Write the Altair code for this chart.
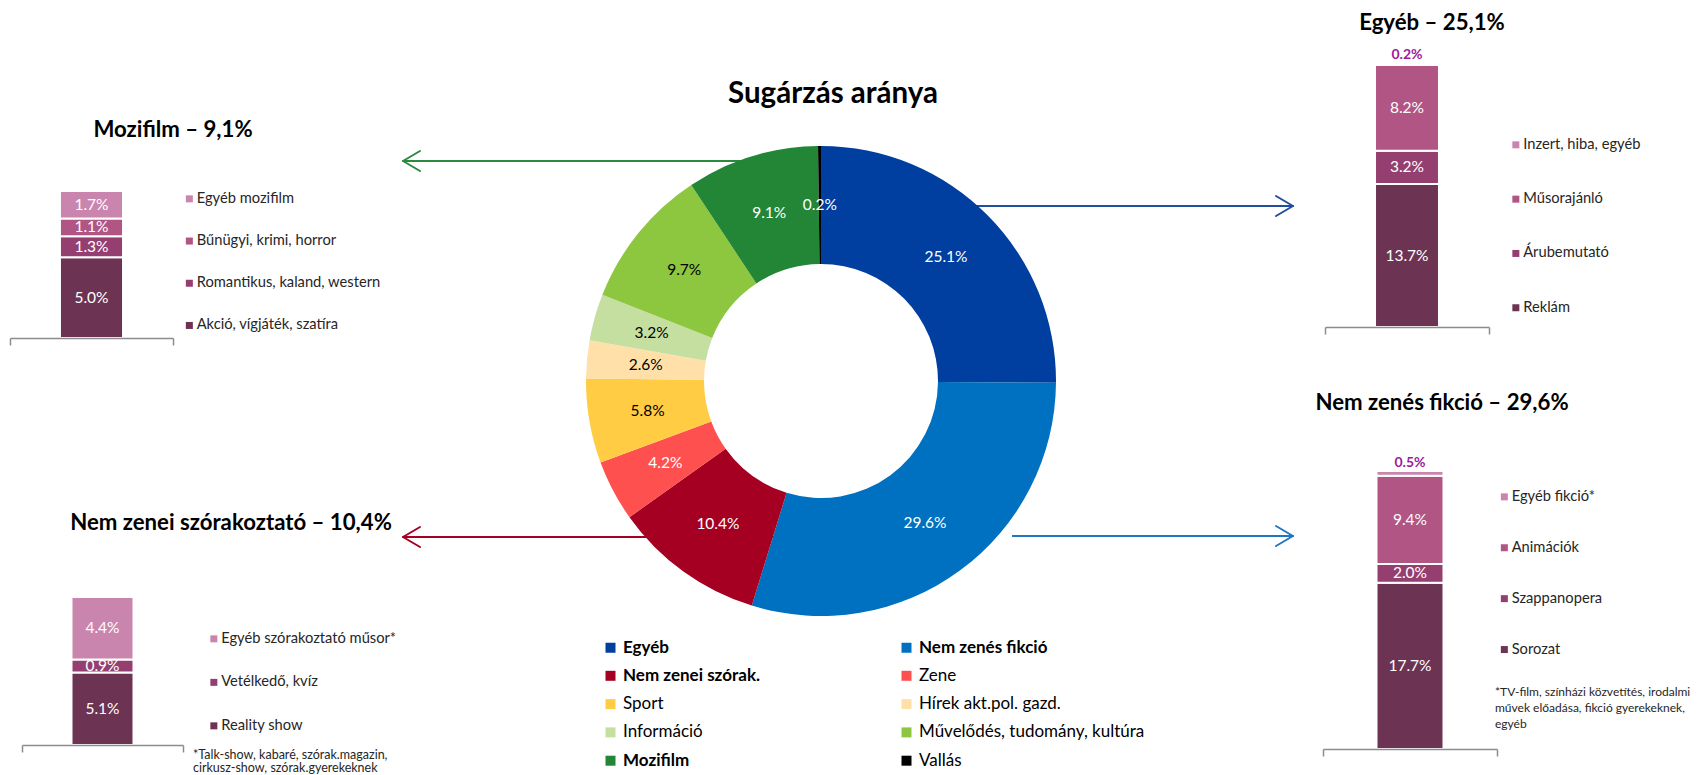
import json
import altair as alt
import pandas as pd

FONT = "Lato"
W, H = 1684, 767

# ---------------- data ----------------
main_title = "Sugárzás aránya"

donut_cats = ["Egyéb", "Nem zenés fikció", "Nem zenei szórak.", "Zene", "Sport",
              "Hírek akt.pol. gazd.", "Információ", "Művelődés, tudomány, kultúra",
              "Mozifilm", "Vallás"]
donut_vals = [25.1, 29.6, 10.4, 4.2, 5.8, 2.6, 3.2, 9.7, 9.1, 0.2]

mozi_title = "Mozifilm – 9,1%"
mozi_cats = ["Akció, vígjáték, szatíra", "Romantikus, kaland, western",
             "Bűnügyi, krimi, horror", "Egyéb mozifilm"]
mozi_vals = [5.0, 1.3, 1.1, 1.7]

egyeb_title = "Egyéb – 25,1%"
egyeb_cats = ["Reklám", "Árubemutató", "Műsorajánló", "Inzert, hiba, egyéb"]
egyeb_vals = [13.7, 3.2, 8.2, 0.2]

szor_title = "Nem zenei szórakoztató – 10,4%"
szor_cats = ["Reality show", "Vetélkedő, kvíz", "Egyéb szórakoztató műsor*"]
szor_vals = [5.1, 0.9, 4.4]
szor_note = "*Talk-show, kabaré, szórak.magazin,\ncirkusz-show, szórak.gyerekeknek"

fikc_title = "Nem zenés fikció – 29,6%"
fikc_cats = ["Sorozat", "Szappanopera", "Animációk", "Egyéb fikció*"]
fikc_vals = [17.7, 2.0, 9.4, 0.5]
fikc_note = "*TV-film, színházi közvetítés, irodalmi\nművek előadása, fikció gyerekeknek,\negyéb"

# ---------------- styles ----------------
donut_colors = ["#003F9F", "#0070C0", "#A50021", "#FF5050", "#FFCC44",
                "#FFE0A8", "#C4DFA0", "#8DC63F", "#238636", "#000000"]
donut_dark_text = ["Sport", "Hírek akt.pol. gazd.", "Információ", "Művelődés, tudomány, kultúra"]
donut_bold = ["Egyéb", "Nem zenés fikció", "Nem zenei szórak.", "Mozifilm"]
four_cols = ["#6C3353", "#943F6F", "#B05584", "#C985AD"]
three_cols = ["#6C3353", "#943F6F", "#C985AD"]
AXIS_GRAY = "#8C8C8C"
PURPLE = "#9B1B9B"

one = pd.DataFrame({"a": [0]})


def arrow(y, x_from, x_tip, color):
    d = 1 if x_tip > x_from else -1
    parts = [
        alt.Chart(one).mark_rule(color=color, strokeWidth=2).encode(
            x=alt.value(x_from), x2=alt.value(x_tip), y=alt.value(y), y2=alt.value(y)),
        alt.Chart(one).mark_rule(color=color, strokeWidth=2, strokeCap="round").encode(
            x=alt.value(x_tip), x2=alt.value(x_tip - d * 17), y=alt.value(y), y2=alt.value(y - 10)),
        alt.Chart(one).mark_rule(color=color, strokeWidth=2, strokeCap="round").encode(
            x=alt.value(x_tip), x2=alt.value(x_tip - d * 17), y=alt.value(y), y2=alt.value(y + 10)),
    ]
    return parts


def label(text, x, y, size, weight="bold", align="center", baseline="middle", color="black", lh=None):
    kw = dict(font=FONT, fontSize=size, fontWeight=weight, align=align, baseline=baseline, color=color)
    if lh is not None:
        kw.update(lineBreak="\n", lineHeight=lh)
    return alt.Chart(one).mark_text(**kw).encode(
        x=alt.value(x), y=alt.value(y), text=alt.value(text))


def panel(cats, vals, colors, total, x_range, axis_y, y_top, band, lx, ly, rowpad):
    df = pd.DataFrame({"panel": "a", "cat": cats, "v": vals, "ord": list(range(len(cats)))})
    base = alt.Chart(df).transform_window(
        cum="sum(v)", sort=[alt.SortField("ord")], frame=[None, 0]
    ).transform_calculate(
        mid="datum.cum - datum.v / 2", lbl="format(datum.v, '.1f') + '%'"
    )
    xs = alt.Scale(domain=["a"], range=x_range, paddingInner=0, paddingOuter=0)
    ys = alt.Scale(domain=[0, total], range=[axis_y, y_top], nice=False, zero=True)
    ax = alt.Axis(orient="bottom", offset=axis_y - H, labels=False, title=None, grid=False,
                  tickBand="extent", tickSize=7, tickColor=AXIS_GRAY, tickWidth=1.5,
                  domainColor=AXIS_GRAY, domainWidth=1.5, zindex=1)
    bar = base.mark_bar(width=alt.RelativeBandSize(band), stroke="white", strokeWidth=2).encode(
        x=alt.X("panel:N", scale=xs, axis=ax),
        y=alt.Y("v:Q", stack="zero", scale=ys, axis=None),
        color=alt.Color("cat:N", scale=alt.Scale(domain=cats[::-1], range=colors[::-1]),
                        legend=alt.Legend(orient="none", legendX=lx, legendY=ly, title=None,
                                          symbolType="square", symbolSize=49, symbolStrokeWidth=0,
                                          labelFont=FONT, labelFontSize=14.7, labelColor="#262626",
                                          rowPadding=rowpad, padding=0, labelOffset=0, labelLimit=0)),
        order=alt.Order("ord:Q"),
    )
    inside = base.transform_filter("datum.v >= 0.6").mark_text(
        color="white", font=FONT, fontSize=15.5, baseline="middle").encode(
        x=alt.X("panel:N", scale=xs, axis=ax),
        y=alt.Y("mid:Q", scale=ys, axis=None),
        text="lbl:N")
    outside = base.transform_filter("datum.v < 0.6").mark_text(
        color=PURPLE, font=FONT, fontSize=14, fontWeight="bold", baseline="bottom", dy=-1).encode(
        x=alt.X("panel:N", scale=xs, axis=ax),
        y=alt.Y("cum:Q", scale=ys, axis=None),
        text="lbl:N")
    return alt.layer(bar, inside, outside)


# ---------------- donut ----------------
CX, CY = 813, 373
ddf = pd.DataFrame({"cat": donut_cats, "v": donut_vals, "ord": list(range(len(donut_cats)))})
dbase = alt.Chart(ddf).transform_calculate(lbl="format(datum.v, '.1f') + '%'")
bold_expr = "indexof(" + json.dumps(donut_bold, ensure_ascii=False) + ", datum.label) >= 0 ? 'bold' : 'normal'"
# legend is filled column by column: list the entries so that they read row by row
legend_order = donut_cats[0::2] + donut_cats[1::2]
legend_colors = donut_colors[0::2] + donut_colors[1::2]
arc = dbase.mark_arc(innerRadius=117, outerRadius=235).encode(
    x=alt.value(CX), y=alt.value(CY),
    theta=alt.Theta("v:Q", stack=True),
    order=alt.Order("ord:Q"),
    color=alt.Color("cat:N", scale=alt.Scale(domain=legend_order, range=legend_colors),
                    legend=alt.Legend(orient="none", legendX=594, legendY=631, title=None, columns=2,
                                      symbolType="square", symbolSize=100, symbolStrokeWidth=0,
                                      labelFont=FONT, labelFontSize=17, labelColor="black",
                                      labelFontWeight=alt.ExprRef(expr=bold_expr),
                                      rowPadding=10.3, columnPadding=137, padding=0,
                                      labelOffset=4, labelLimit=0)),
)
dark_expr = "indexof(" + json.dumps(donut_dark_text, ensure_ascii=False) + ", datum.cat) >= 0"
arc_text = dbase.mark_text(radius=176, font=FONT, fontSize=15.5).encode(
    x=alt.value(CX), y=alt.value(CY),
    theta=alt.Theta("v:Q", stack=True),
    order=alt.Order("ord:Q"),
    text="lbl:N",
    color=alt.condition(dark_expr, alt.value("black"), alt.value("white")),
)
donut = alt.layer(arc, arc_text)

layers = []
layers += arrow(153, 810, 395, "#2A8A3E")
layers += arrow(198, 960, 1285, "#1F4E9E")
layers += arrow(529, 783, 395, "#A50021")
layers += arrow(528, 1004, 1285, "#1F77C4")
layers.append(donut)
layers.append(label(main_title, 825, 86, 29.5))

layers.append(panel(mozi_cats, mozi_vals, four_cols, 9.1, [2, 165], 330, 183, 0.387,
                    174, 183.5, 26.2))
layers.append(panel(egyeb_cats, egyeb_vals, four_cols, 25.3, [1317, 1481], 319, 55, 0.39,
                    1500.5, 129.5, 38.3))
layers.append(panel(szor_cats, szor_vals, three_cols, 10.4, [14, 175], 737, 589, 0.385,
                    198.5, 623.5, 27.5))
layers.append(panel(fikc_cats, fikc_vals, four_cols, 29.6, [1315, 1489], 741, 463, 0.385,
                    1489, 481.5, 34.9))

layers.append(label(mozi_title, 165, 122, 22.2))
layers.append(label(egyeb_title, 1424, 15, 22.2))
layers.append(label(szor_title, 223, 515, 22.2))
layers.append(label(fikc_title, 1434, 395, 22.2))
layers.append(label(szor_note, 185, 741, 12.5, weight="normal", align="left", baseline="top",
                    color="#262626", lh=12.5))
layers.append(label(fikc_note, 1487, 679, 12, weight="normal", align="left", baseline="top",
                    color="#262626", lh=16))

chart = alt.layer(*layers).resolve_scale(
    x="independent", y="independent", color="independent", theta="independent"
).properties(
    width=W, height=H, padding=0, autosize=alt.AutoSizeParams(type="none")
).configure_view(strokeWidth=0)

chart.save("out.html", embed_options={"renderer": "svg", "actions": False})
